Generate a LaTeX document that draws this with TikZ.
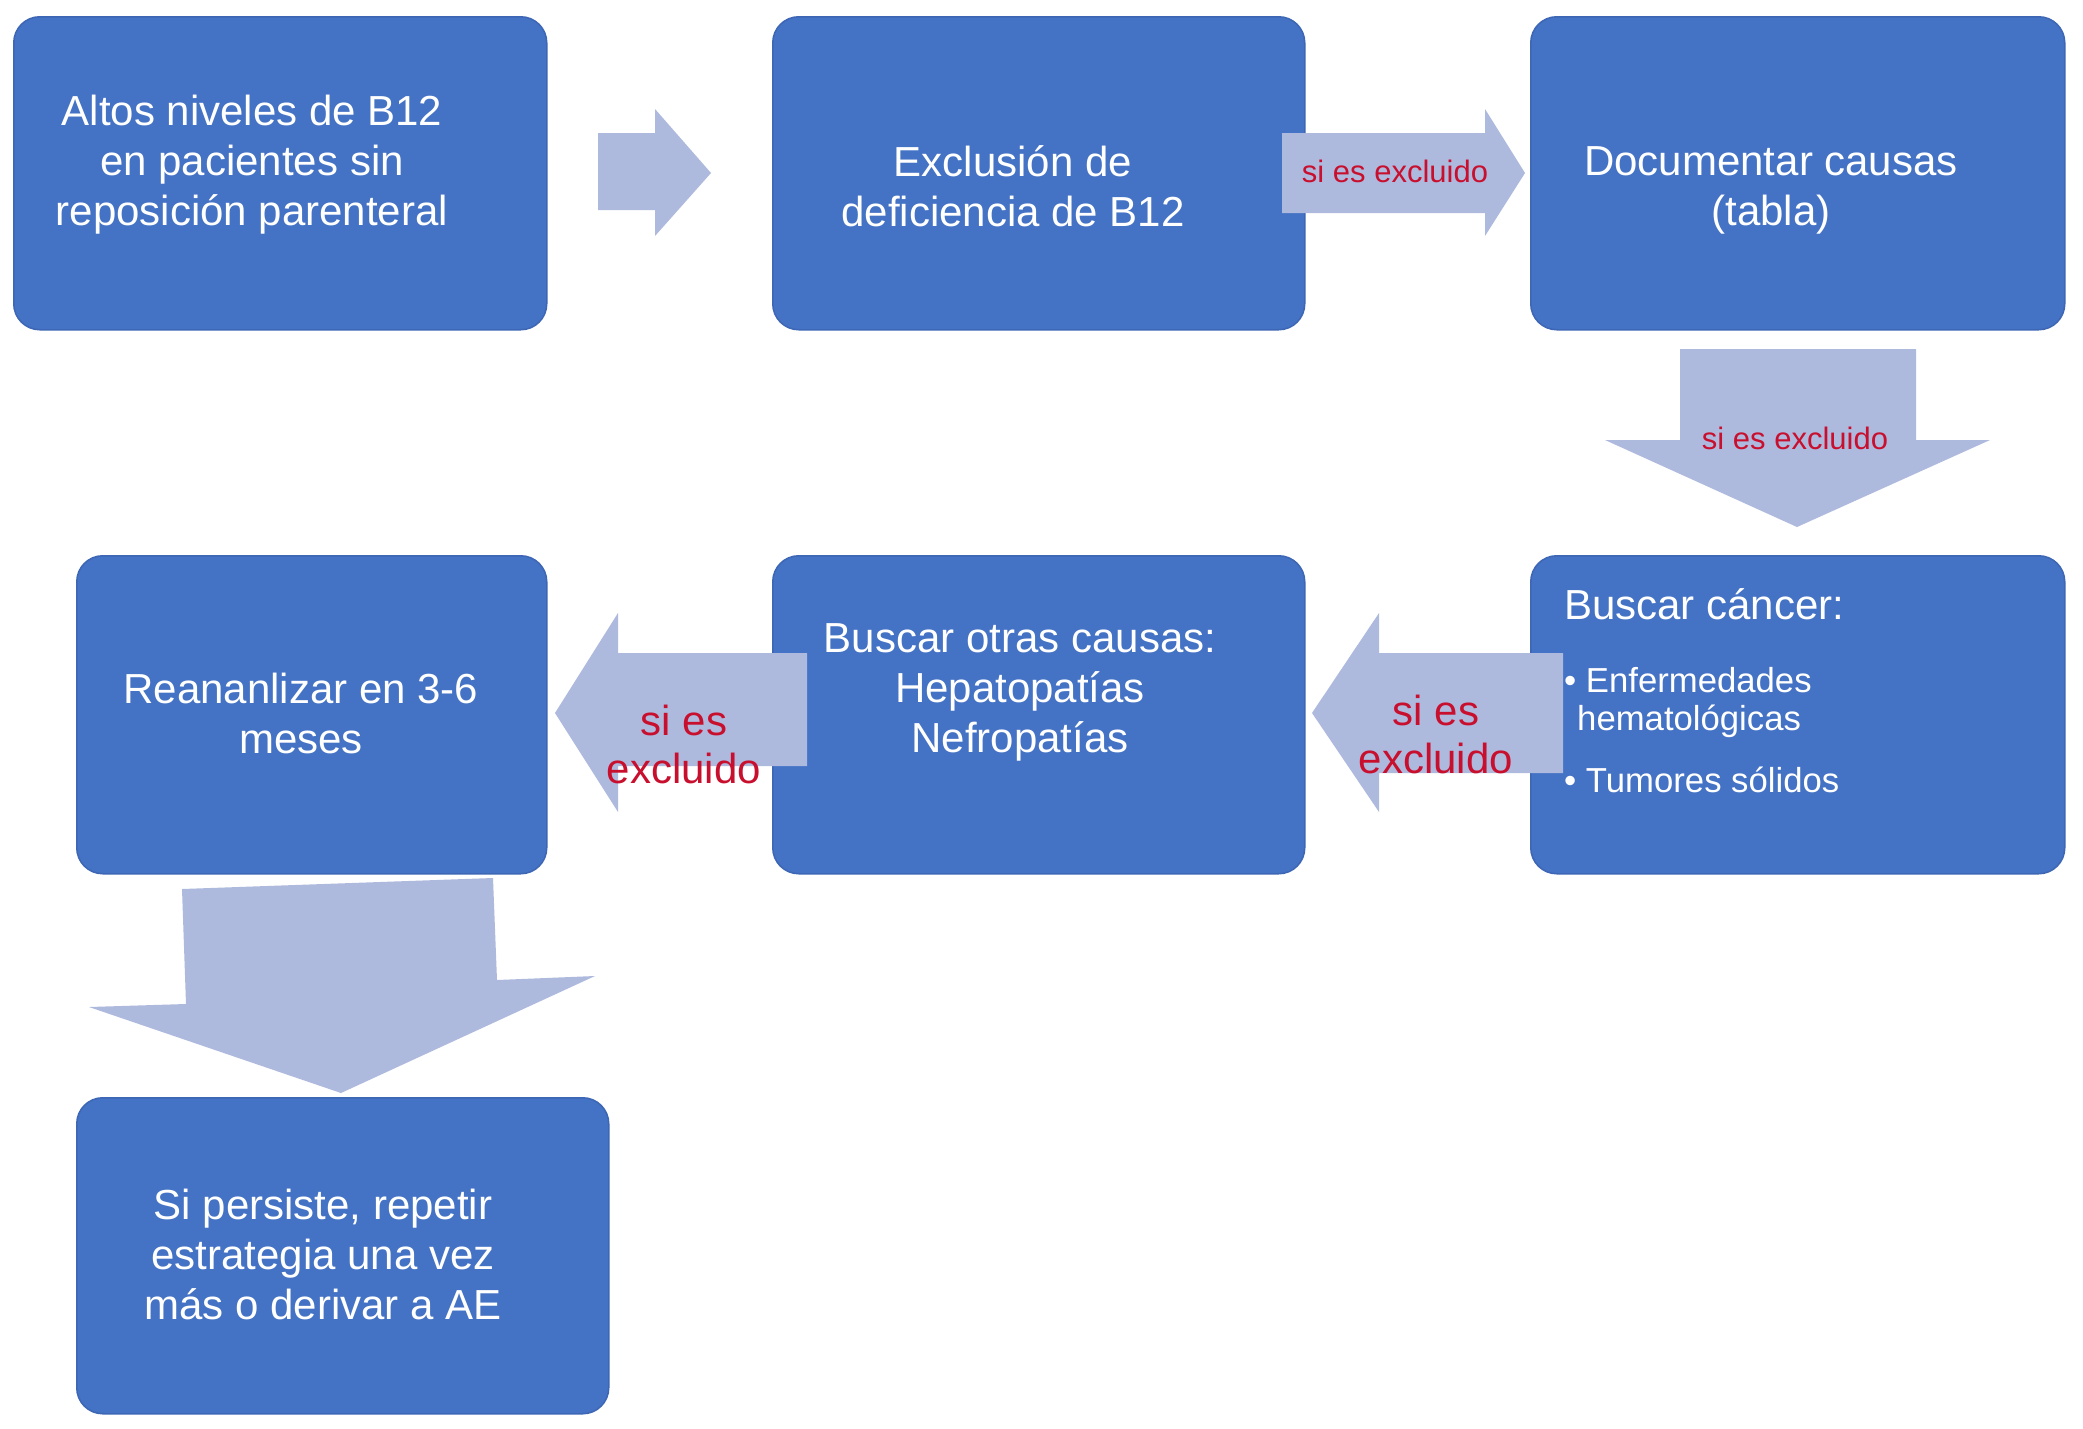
\documentclass[tikz,border=0pt]{standalone}
\usepackage{fontspec}
\setmainfont{Liberation Sans}
\definecolor{boxblue}{HTML}{4472C4}
\definecolor{boxedge}{HTML}{3D66B5}
\definecolor{arrowfill}{HTML}{AEB9DE}
\definecolor{redtxt}{HTML}{C8102E}
\begin{document}
\begin{tikzpicture}[x=1pt,y=-1pt,
  box/.style={rectangle, fill=boxblue, draw=boxedge, line width=1.5pt,
    rounded corners=26pt, inner sep=0pt, anchor=north west},
  boxtext/.style={text=white, align=center, inner sep=0pt,
    font=\fontsize{42}{50}\selectfont},
  listhead/.style={text=white, inner sep=0pt, anchor=west,
    font=\fontsize{42}{50}\selectfont},
  listitem/.style={text=white, inner sep=0pt, anchor=west,
    font=\fontsize{34.7}{42}\selectfont},
  smalllabel/.style={text=redtxt, inner sep=0pt,
    font=\fontsize{31}{37}\selectfont},
  biglabel/.style={text=redtxt, inner sep=0pt, align=center,
    font=\fontsize{42}{48}\selectfont},
  blockarrow/.style={fill=arrowfill, draw=none}]
\useasboundingbox (0,0) rectangle (2083,1428);
\fill[white] (0,0) rectangle (2083,1428);

% boxes
\node[box, minimum width=533pt, minimum height=313pt] (b1) at (13,16) {};
\node[box, minimum width=532pt, minimum height=313pt] (b2) at (772,16) {};
\node[box, minimum width=534pt, minimum height=313pt] (b3) at (1530,16) {};
\node[box, minimum width=470pt, minimum height=318pt] (b4) at (76,555) {};
\node[box, minimum width=532pt, minimum height=318pt] (b5) at (772,555) {};
\node[box, minimum width=534pt, minimum height=318pt] (b6) at (1530,555) {};
\node[box, minimum width=532pt, minimum height=316pt] (b7) at (76,1097) {};

% block arrows
\fill[blockarrow] (598,133) -- (655,133) -- (655,109) -- (711,173)
  -- (655,236) -- (655,210) -- (598,210) -- cycle;
\fill[blockarrow] (1282,133) -- (1485,133) -- (1485,109) -- (1525,173)
  -- (1485,236) -- (1485,213) -- (1282,213) -- cycle;
\fill[blockarrow] (1680,349) -- (1916,349) -- (1916,440) -- (1990,440)
  -- (1797,527) -- (1605,440) -- (1680,440) -- cycle;
\fill[blockarrow] (1563,653) -- (1379,653) -- (1379,613) -- (1312,713)
  -- (1379,812) -- (1379,773) -- (1563,773) -- cycle;
\fill[blockarrow] (807,653) -- (618,653) -- (618,613) -- (555,713)
  -- (618,812) -- (618,766) -- (807,766) -- cycle;
\fill[blockarrow] (182,889) -- (493,878) -- (497,980) -- (595,976)
  -- (341,1093) -- (89,1007) -- (186,1004) -- cycle;

% box texts
\node[boxtext] (t1) at (252,165) {Altos niveles de B12\\en pacientes sin\\reposición parenteral};
\node[boxtext] (t2) at (1013,186) {Exclusión de\\deficiencia de B12};
\node[boxtext] (t3) at (1771,190) {Documentar causas\\(tabla)};
\node[boxtext] (t4) at (301,713) {Reananlizar en 3-6\\meses};
\node[boxtext] (t5) at (1020,692) {Buscar otras causas:\\Hepatopatías\\Nefropatías};
\node[boxtext] (t7) at (323,1254) {Si persiste, repetir\\estrategia una vez\\más o derivar a AE};

\node[listhead] (t6a) at (1564,604) {Buscar cáncer:};
\node[listitem] (t6b) at (1564,680) {• Enfermedades};
\node[listitem] (t6c) at (1577,721) {hematológicas};
\node[listitem] (t6d) at (1564,780) {• Tumores sólidos};

% arrow labels
\node[smalllabel] (l2) at (1395,171) {si es excluido};
\node[smalllabel] (l3) at (1795,438) {si es excluido};
\node[biglabel] (l4) at (1436,734) {si es\\excluido};
\node[biglabel] (l5) at (684,744) {si es\\excluido};
\end{tikzpicture}
\end{document}
